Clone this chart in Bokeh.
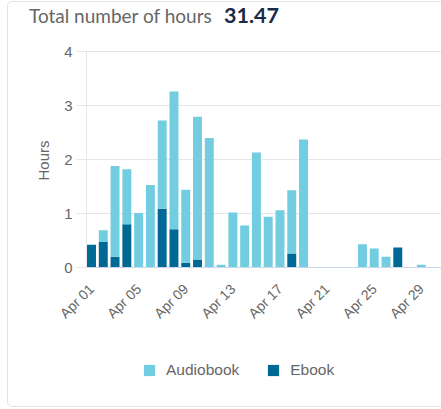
import math
from bokeh.plotting import figure
from bokeh.layouts import column
from bokeh.models import (ColumnDataSource, Range1d, FixedTicker, Legend,
                          LegendItem, Div, Label)
from bokeh.embed import file_html
from bokeh.resources import INLINE

# ---- data ----
days = list(range(1, 31))  # April 1..30
audiobook = [0, 0.22, 1.68, 1.02, 1.01, 1.53, 1.63, 2.55, 1.35, 2.64,
             2.40, 0.05, 1.02, 0.78, 2.13, 0.94, 1.06, 1.17, 2.37, 0,
             0, 0, 0, 0.43, 0.35, 0.20, 0, 0, 0.05, 0]
ebook = [0.42, 0.47, 0.20, 0.80, 0, 0, 1.09, 0.71, 0.09, 0.15,
         0, 0, 0, 0, 0, 0, 0, 0.26, 0, 0,
         0, 0, 0, 0, 0, 0, 0.37, 0, 0, 0]
tick_days = [1, 5, 9, 13, 17, 21, 25, 29]
tick_labels = ["Apr 01", "Apr 05", "Apr 09", "Apr 13", "Apr 17",
               "Apr 21", "Apr 25", "Apr 29"]
y_ticks = [0, 1, 2, 3, 4]
title_text = "Total number of hours"
total_text = "31.47"
y_title = "Hours"
series = ["Ebook", "Audiobook"]
colors = {"Audiobook": "#73cde1", "Ebook": "#006894"}

source = ColumnDataSource(dict(day=days, Audiobook=audiobook, Ebook=ebook))

FONT = "Liberation Sans"
GRAY = "#666666"
W, H = 441, 409
DIV_H = 34
PX_PER_HOUR = 54.0
PX_PER_DAY = 11.78
AXIS_X_PX = 86          # where the value axis sits
Y4_PX = 51              # page y of the top gridline
frame_h = H - DIV_H
axis_day = 0.576        # day value at the value axis
x_start = axis_day - AXIS_X_PX / PX_PER_DAY
x_end = x_start + W / PX_PER_DAY
y_top = 4 + (Y4_PX - DIV_H) / PX_PER_HOUR
y_bottom = y_top - frame_h / PX_PER_HOUR

header = Div(
    text=(
        '<div style="position:relative;width:%dpx;height:%dpx;">'
        '<div style="position:absolute;left:7px;top:1px;width:460px;height:406px;'
        'border:1px solid #e3e3e3;border-radius:5px;box-sizing:border-box;"></div>'
        '<span style="position:absolute;left:29px;top:6px;font-family:Lato;'
        'font-size:19px;line-height:19px;color:#666666;white-space:nowrap;">%s</span>'
        '<span style="position:absolute;left:224px;top:4px;font-family:Lato;'
        'font-weight:bold;font-size:21.5px;line-height:22px;color:#1b2a47;'
        'white-space:nowrap;">%s</span></div>'
    ) % (W, DIV_H, title_text, total_text),
    width=W, height=DIV_H, margin=0,
)

p = figure(width=W, height=H - DIV_H, output_backend="svg",
           toolbar_location=None,
           x_range=Range1d(x_start, x_end),
           y_range=Range1d(y_bottom, y_top),
           min_border_left=0, min_border_right=0,
           min_border_top=0, min_border_bottom=0, margin=0)
p.outline_line_color = None
p.background_fill_color = None
p.border_fill_color = None

renderers = p.vbar_stack(series, x="day", width=0.76, source=source,
                         color=[colors[s] for s in series], line_color=None)

# x axis sits at y = 0 inside the frame
p.xaxis.fixed_location = 0
p.xaxis.bounds = (axis_day, x_end)
p.xaxis.ticker = FixedTicker(ticks=tick_days)
p.xaxis.major_label_overrides = {d: l for d, l in zip(tick_days, tick_labels)}
p.xaxis.major_label_orientation = math.pi / 4
p.xaxis.major_tick_line_color = None
p.xaxis.minor_tick_line_color = None
p.xaxis.axis_line_color = "#ccd6eb"
p.xaxis.major_label_text_color = GRAY
p.xaxis.major_label_text_font = FONT
p.xaxis.major_label_text_font_size = "14px"
p.xaxis.major_label_standoff = 13

# value axis sits at the first day edge inside the frame
p.yaxis.fixed_location = axis_day
p.yaxis.bounds = (0, 4)
p.yaxis.ticker = FixedTicker(ticks=y_ticks)
p.yaxis.axis_line_color = "#e6e6e6"
p.yaxis.major_tick_line_color = "#e6e6e6"
p.yaxis.major_tick_out = 10
p.yaxis.major_tick_in = 0
p.yaxis.minor_tick_line_color = None
p.yaxis.major_label_text_color = GRAY
p.yaxis.major_label_text_font = FONT
p.yaxis.major_label_text_font_size = "15px"
p.yaxis.major_label_standoff = 4

p.xgrid.grid_line_color = None
p.ygrid.ticker = FixedTicker(ticks=y_ticks[1:])
p.ygrid.cross_bounds = (axis_day, x_end)
p.ygrid.grid_line_color = "#e6e6e6"

# value axis title (screen units from the frame's bottom-left)
p.add_layout(Label(x=43, y=H - 160, x_units="screen", y_units="screen",
                   text=y_title, angle=math.pi / 2,
                   text_align="center", text_baseline="middle",
                   text_font=FONT, text_font_size="15px", text_color=GRAY))

# legend (inside the frame, below the axis labels)
items = [LegendItem(label="Audiobook", renderers=[renderers[1]]),
         LegendItem(label="Ebook", renderers=[renderers[0]])]
legend = Legend(items=items, orientation="horizontal", location=(142, 30),
                padding=0, margin=0, spacing=27, label_standoff=10,
                glyph_width=14, glyph_height=14,
                label_text_font=FONT, label_text_font_size="15.5px",
                label_text_color=GRAY, border_line_color=None,
                background_fill_alpha=0)
p.add_layout(legend, "center")

layout = column(header, p, spacing=0, margin=0)
open("out.html", "w").write(file_html(layout, INLINE))
